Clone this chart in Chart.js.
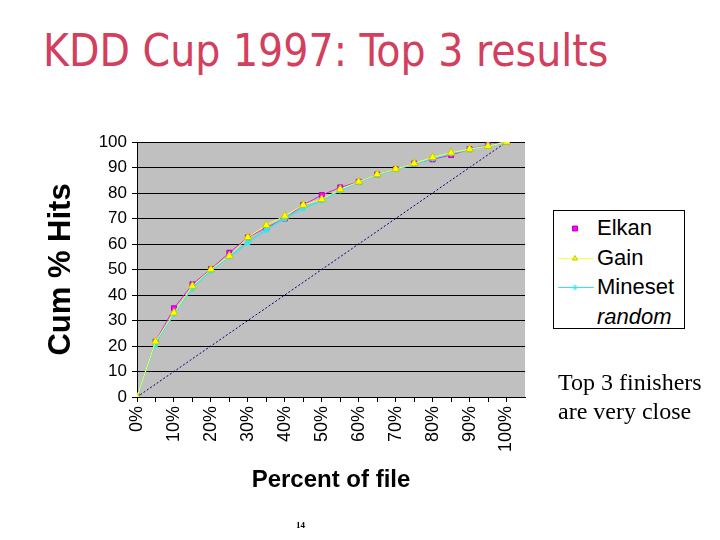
<!DOCTYPE html>
<html>
<head>
<meta charset="utf-8">
<script src="https://cdn.jsdelivr.net/npm/chart.js@4"></script>
<style>
  body { margin: 0; width: 720px; height: 540px; background: #fff; position: relative; overflow: hidden; }
  #chart { position: absolute; left: 0; top: 0; }
  .title { position: absolute; left: 43px; top: 25px; font-family: "DejaVu Sans Condensed", "DejaVu Sans", sans-serif;
           font-size: 44px; color: #d2405e; white-space: nowrap; }
  .legend { position: absolute; left: 553px; top: 210px; width: 130px; height: 117px; border: 1px solid #000;
            background: #fff; font-family: "Liberation Sans", Arial, sans-serif; font-size: 22px; }
  .legend .row { position: absolute; left: 0; height: 24px; width: 130px; }
  .legend .row span { position: absolute; left: 43px; top: 0; line-height: 24px; }
  .legend canvas { position: absolute; left: 0; top: 0; }
  .note { position: absolute; left: 558px; top: 368px; font-family: "Liberation Serif", "Times New Roman", serif;
          font-size: 24px; line-height: 29px; color: #000; white-space: nowrap; }
  .page { position: absolute; left: 296px; top: 520px; font-family: "Liberation Serif", serif; font-weight: bold; font-size: 9px; }
</style>
</head>
<body>
<div class="title">KDD Cup 1997: Top 3 results</div>
<canvas id="chart" width="720" height="540"></canvas>
<div class="legend" id="legend"></div>
<div class="note">Top 3 finishers<br>are very close</div>
<div class="page">14</div>
<script>
// data (percent of file vs cumulative % hits)
const pct     = [0, 5, 10, 15, 20, 25, 30, 35, 40, 45, 50, 55, 60, 65, 70, 75, 80, 85, 90, 95, 100];
const elkan   = [0, 21.7, 34.8, 44.2, 50.2, 56.6, 62.6, 66.4, 70, 75.3, 79.2, 82.2, 84.4, 87.3, 89.4, 91.6, 93.2, 94.9, 97.2, 98.8, 100];
const gain    = [0, 21.7, 33, 43.5, 50, 55.3, 62.6, 67.4, 71, 75.3, 77.5, 81.4, 84.4, 87.3, 89.4, 91.6, 94, 95.8, 97.2, 98.4, 100];
const mineset = [0, 20.5, 32.5, 42.5, 49.5, 55, 60.5, 65.5, 70, 74, 77, 81, 84.2, 87, 89.2, 91.4, 93.5, 95.5, 97, 98.5, 100];
const random  = [0, 5, 10, 15, 20, 25, 30, 35, 40, 45, 50, 55, 60, 65, 70, 75, 80, 85, 90, 95, 100];
const yTicks  = [0, 10, 20, 30, 40, 50, 60, 70, 80, 90, 100];

const pts = arr => arr.map((v, i) => ({ x: pct[i], y: v }));

// gray plot background
const plotBg = {
  id: 'plotBg',
  beforeDraw(c) {
    const a = c.chartArea, ctx = c.ctx;
    ctx.save();
    ctx.fillStyle = '#c0c0c0';
    ctx.fillRect(a.left, a.top, a.right - a.left, a.bottom - a.top);
    ctx.restore();
  }
};

const fam = '"Liberation Sans", Arial, sans-serif';

const chart = new Chart(document.getElementById('chart'), {
  type: 'line',
  data: {
    datasets: [
      { label: 'Elkan', data: pts(elkan), borderColor: '#d828d8', borderWidth: 1,
        pointStyle: 'rect', pointRadius: 3.5, pointBackgroundColor: '#ff00ff', pointBorderColor: '#c000c0', order: 2 },
      { label: 'Gain', data: pts(gain), borderColor: '#ffff40', borderWidth: 1,
        pointStyle: 'triangle', pointRadius: 4.5, pointBackgroundColor: '#ffff00', pointBorderColor: '#c8c800', order: 0 },
      { label: 'Mineset', data: pts(mineset), borderColor: '#30e8f0', borderWidth: 1.5, tension: 0.3,
        pointStyle: 'star', pointRadius: 3, pointBorderColor: '#30e8f0', order: 1 },
      { label: 'random', data: pts(random), borderColor: '#000080', borderWidth: 1, borderDash: [2, 2],
        pointRadius: 0, order: 3 }
    ]
  },
  options: {
    responsive: false,
    animation: false,
    layout: { padding: { left: 43, top: 142, right: 195, bottom: 45 } },
    plugins: { legend: { display: false }, tooltip: { enabled: false } },
    scales: {
      x: {
        type: 'linear', min: 0, max: 105,
        afterBuildTicks: s => { s.ticks = pct.map(v => ({ value: v })); },
        afterFit: s => { s.height = 98; },
        grid: { drawOnChartArea: false, color: '#000', tickLength: 5, tickColor: '#000' },
        border: { color: '#000', width: 1 },
        ticks: { minRotation: 90, maxRotation: 90, autoSkip: false, color: '#000',
                 font: { family: fam, size: 18 }, padding: 4,
                 callback: v => (v % 10 === 0 ? v + '%' : '') },
        title: { display: true, text: 'Percent of file', color: '#000',
                 font: { family: fam, size: 24, weight: 'bold' }, padding: 0 }
      },
      y: {
        min: 0, max: 100,
        afterBuildTicks: s => { s.ticks = yTicks.map(v => ({ value: v })); },
        afterFit: s => { s.width = 94; },
        grid: { color: '#000', tickLength: 5, tickColor: '#000' },
        border: { color: '#000', width: 1 },
        ticks: { color: '#000', font: { family: fam, size: 17 }, padding: 5 },
        title: { display: true, text: 'Cum % Hits', color: '#000',
                 font: { family: fam, size: 31, weight: 'bold' }, padding: 0 }
      }
    }
  },
  plugins: [plotBg]
});

// legend box built from the chart's datasets
const legend = document.getElementById('legend');
chart.data.datasets.forEach((ds, i) => {
  const row = document.createElement('div');
  row.className = 'row';
  row.style.top = (5 + i * 29.5) + 'px';
  const sw = document.createElement('canvas');
  sw.width = 42; sw.height = 24;
  const ctx = sw.getContext('2d');
  if (ds.label === 'Gain' || ds.label === 'Mineset') {
    ctx.strokeStyle = ds.borderColor; ctx.lineWidth = 1;
    ctx.beginPath(); ctx.moveTo(4, 12.5); ctx.lineTo(40, 12.5); ctx.stroke();
  }
  if (ds.pointRadius) {
    ctx.fillStyle = ds.pointBackgroundColor || ds.borderColor;
    ctx.strokeStyle = ds.pointBorderColor || ds.borderColor;
    Chart.helpers.drawPoint(ctx, { pointStyle: ds.pointStyle, radius: ds.label === 'Elkan' ? 3.5 : 3, borderWidth: 1 }, 21, 12.5);
  }
  const t = document.createElement('span');
  t.textContent = ds.label;
  if (ds.label === 'random') t.style.fontStyle = 'italic';
  row.appendChild(sw); row.appendChild(t);
  legend.appendChild(row);
});
</script>
</body>
</html>
